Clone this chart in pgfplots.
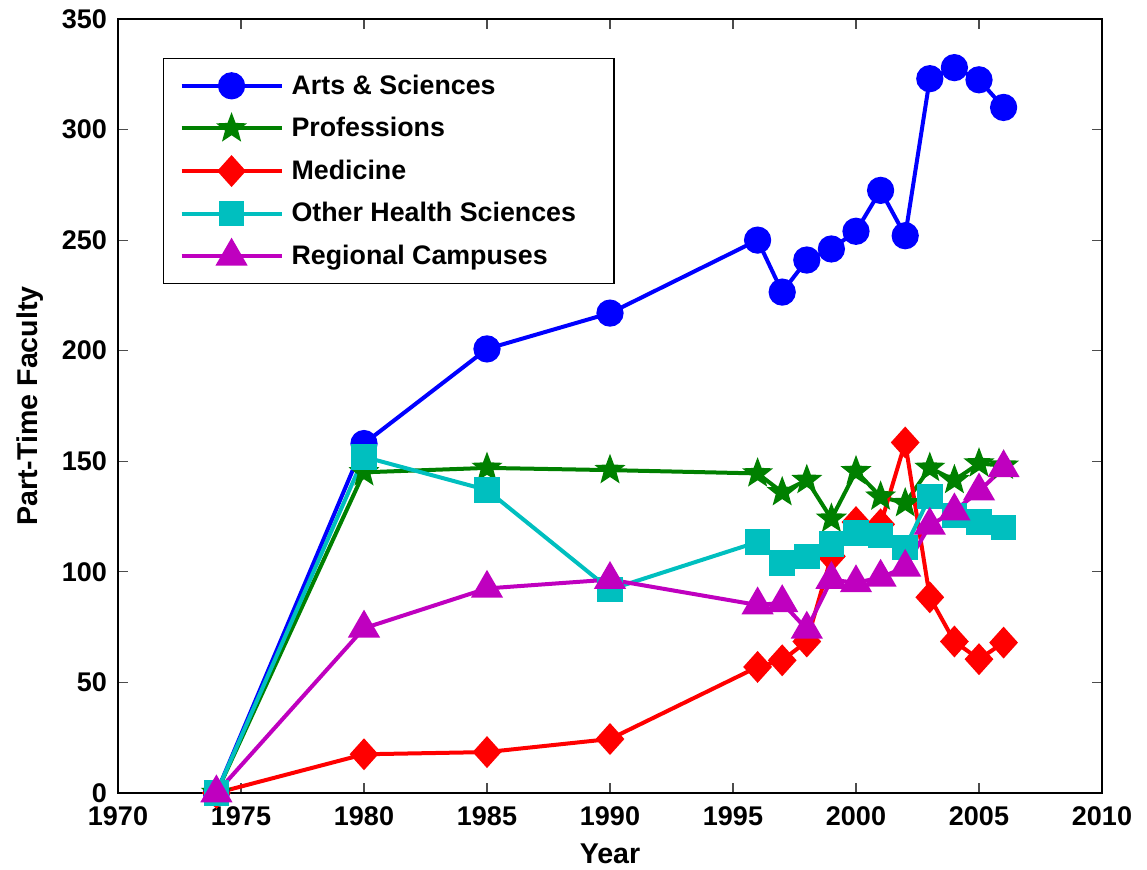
\documentclass[border=0pt]{standalone}
\usepackage{pgfplots}
\pgfplotsset{compat=1.18}
\usepackage{pgfplotstable}
\usepackage{fontspec}
\setmainfont{Liberation Sans}
\definecolor{mblue}{RGB}{0,0,255}
\definecolor{mgreen}{RGB}{0,128,0}
\definecolor{mred}{RGB}{255,0,0}
\definecolor{mcyan}{RGB}{0,191,191}
\definecolor{mmag}{RGB}{191,0,191}
\pgfdeclareplotmark{pstar*}{%
  \pgfpathmoveto{\pgfpointpolar{90}{\pgfplotmarksize}}%
  \pgfpathlineto{\pgfpointpolar{126}{0.42\pgfplotmarksize}}%
  \pgfpathlineto{\pgfpointpolar{162}{\pgfplotmarksize}}%
  \pgfpathlineto{\pgfpointpolar{198}{0.42\pgfplotmarksize}}%
  \pgfpathlineto{\pgfpointpolar{234}{\pgfplotmarksize}}%
  \pgfpathlineto{\pgfpointpolar{270}{0.42\pgfplotmarksize}}%
  \pgfpathlineto{\pgfpointpolar{306}{\pgfplotmarksize}}%
  \pgfpathlineto{\pgfpointpolar{342}{0.42\pgfplotmarksize}}%
  \pgfpathlineto{\pgfpointpolar{18}{\pgfplotmarksize}}%
  \pgfpathlineto{\pgfpointpolar{54}{0.42\pgfplotmarksize}}%
  \pgfpathclose
  \pgfusepathqfillstroke}
\pgfplotstableread{
year A P M O R
1974 0 0 0 0 0
1980 158 145 17.5 152 74.5
1985 200.8 147 18.5 137 92.5
1990 217 146 24.4 92 96.5
1996 250 144.5 57 113.5 85
1997 226.5 136 60 104 86
1998 241 141.5 68.5 107 74
1999 246 124 107 112.5 96.5
2000 254 145.5 122.5 117.5 95
2001 272.5 134 121.5 116.5 97.5
2002 252 131 158.5 111 102
2003 323 147 88.5 134 121
2004 328 141.5 68.5 125.5 127.5
2005 322.5 149 60.5 122.5 136.5
2006 310 148 68 120 147
}\datatable
\begin{document}
\begin{tikzpicture}
\path[use as bounding box] (0,0) rectangle (573.5pt,435pt);
\begin{axis}[
  at={(59pt,38.5pt)}, anchor=south west,
  scale only axis, width=492pt, height=387pt,
  xmin=1970, xmax=2010, ymin=0, ymax=350,
  xtick={1970,1975,...,2010}, ytick={0,50,...,350},
  tick align=inside, major tick length=5pt,
  xtick pos=both, ytick pos=both,
  axis line style={black, line width=0.6pt},
  tick style={black!70, line width=0.6pt},
  /pgf/number format/assume math mode=true,
  /pgf/number format/1000 sep={},
  ticklabel style={font=\fontsize{13.5}{16}\selectfont\bfseries},
  xticklabel style={yshift=-3.5pt},
  yticklabel style={xshift=-2pt},
  xlabel={Year}, ylabel={Part-Time Faculty},
  label style={font=\fontsize{14.3}{17}\selectfont\bfseries},
  xlabel style={at={(axis description cs:0.5,-0.0788)}, anchor=center},
  ylabel style={at={(axis description cs:-0.0894,0.5)}, anchor=center},
  every axis plot/.append style={line width=2pt, mark options={solid, line width=0.5pt}},
  legend cell align=left,
  legend style={at={(rel axis cs:0.0457,0.9496)}, anchor=north west,
    draw=black, line width=0.6pt, fill=white,
    font=\fontsize{13.4}{16}\selectfont\bfseries,
    row sep=6.1pt, inner xsep=8pt, inner ysep=6pt,
    nodes={inner xsep=4pt}},
  legend image code/.code={\draw[mark repeat=2, mark phase=2] plot coordinates {(0pt,0pt)(25pt,0pt)(50pt,0pt)};},
]
\addplot[color=mblue, mark=*, mark size=5.8pt, mark options={fill=mblue}] table[x=year,y=A]{\datatable};
\addlegendentry{Arts \& Sciences}
\addplot[color=mgreen, mark=pstar*, mark size=5.3pt, mark options={fill=mgreen}] table[x=year,y=P]{\datatable};
\addlegendentry{Professions}
\addplot[color=mred, mark=diamond*, mark size=6.5pt, mark options={fill=mred, xscale=1.2}] table[x=year,y=M]{\datatable};
\addlegendentry{Medicine}
\addplot[color=mcyan, mark=square*, mark size=5.4pt, mark options={fill=mcyan}] table[x=year,y=O]{\datatable};
\addlegendentry{Other Health Sciences\hspace*{7pt}}
\addplot[color=mmag, mark=triangle*, mark size=7.3pt, mark options={fill=mmag}] table[x=year,y=R]{\datatable};
\addlegendentry{Regional Campuses}
\end{axis}
\end{tikzpicture}
\end{document}
